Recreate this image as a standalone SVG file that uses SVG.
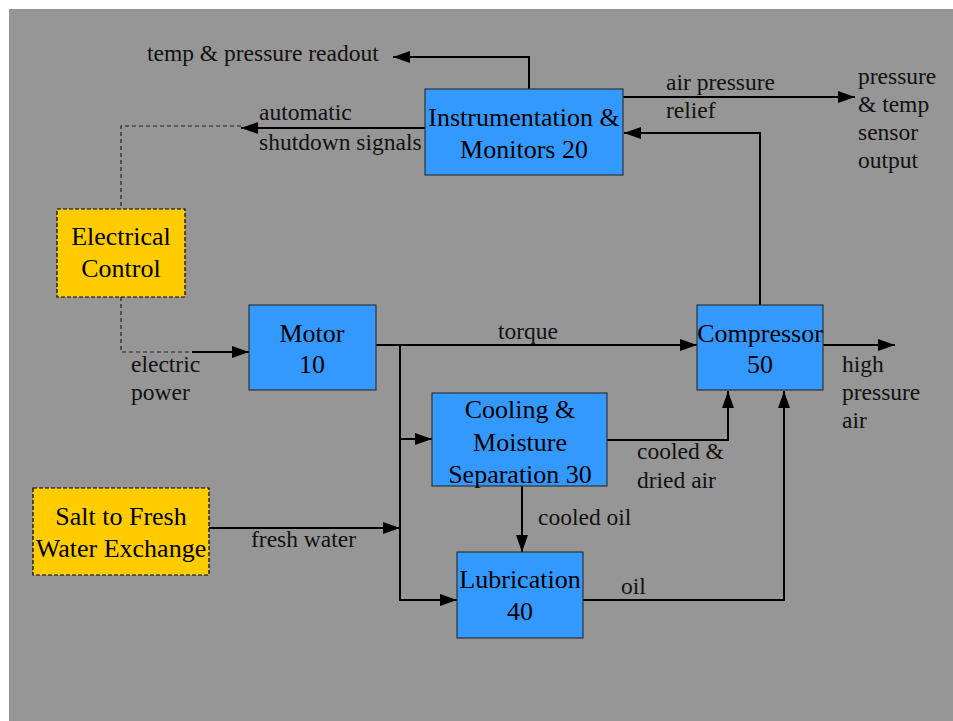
<svg xmlns="http://www.w3.org/2000/svg" width="953" height="721" viewBox="0 0 953 721" font-family="'Liberation Serif', 'DejaVu Serif', serif">
<defs>
<marker id="ah" markerUnits="userSpaceOnUse" markerWidth="18" markerHeight="12" refX="17" refY="6" orient="auto">
<path d="M0,0 L17,6 L0,12 z" fill="#000"/>
</marker>
<style>
.bg{fill:#969696}
.blue{fill:#3399ff;stroke:#333;stroke-width:1.2}
.yel{fill:#ffcc00;stroke:#000;stroke-width:1.2;stroke-dasharray:4,2}
.nt{font-family:'Liberation Serif', 'DejaVu Serif', serif;font-size:26px;fill:#000;text-anchor:middle}
.lb{font-family:'Liberation Serif', 'DejaVu Serif', serif;font-size:23.5px;fill:#111}
.c{fill:none;stroke:#000;stroke-width:2}
.d{fill:none;stroke:#222;stroke-width:1.2;stroke-dasharray:4,3}
</style>
</defs>
<rect x="0" y="0" width="953" height="721" fill="#fff"/>
<rect class="bg" x="9" y="9" width="944" height="712"/>

<g id="connectors">
<path class="c" d="M529,89 V57 H393" marker-end="url(#ah)"/>
<path class="c" d="M425,128 H241" marker-end="url(#ah)"/>
<path class="d" d="M241,126 H121 V209"/>
<path class="d" d="M121,297 V352 H192"/>
<path class="c" d="M192,352 H249" marker-end="url(#ah)"/>
<path class="c" d="M623,97 H855" marker-end="url(#ah)"/>
<path class="c" d="M760,305 V133 H624" marker-end="url(#ah)"/>
<path class="c" d="M376,345 H697" marker-end="url(#ah)"/>
<path class="c" d="M400,345 V600 H457" marker-end="url(#ah)"/>
<path class="c" d="M400,439 H432" marker-end="url(#ah)"/>
<path class="c" d="M209,528 H400" marker-end="url(#ah)"/>
<path class="c" d="M823,345 H895" marker-end="url(#ah)"/>
<path class="c" d="M607,440 H728 V391" marker-end="url(#ah)"/>
<path class="c" d="M583,600 H784 V391" marker-end="url(#ah)"/>
<path class="c" d="M522,486 V552" marker-end="url(#ah)"/>
</g>

<g id="labels">
<text class="lb" x="147" y="61">temp &amp; pressure readout</text>
<text class="lb" x="259" y="120">automatic</text>
<text class="lb" x="259" y="150">shutdown signals</text>
<text class="lb" x="666" y="90">air pressure</text>
<text class="lb" x="666" y="118">relief</text>
<text class="lb" x="858" y="84">pressure</text>
<text class="lb" x="858" y="112">&amp; temp</text>
<text class="lb" x="858" y="140">sensor</text>
<text class="lb" x="858" y="168">output</text>
<text class="lb" x="131" y="372">electric</text>
<text class="lb" x="131" y="400">power</text>
<text class="lb" x="498" y="339">torque</text>
<text class="lb" x="842" y="372">high</text>
<text class="lb" x="842" y="400">pressure</text>
<text class="lb" x="842" y="428">air</text>
<text class="lb" x="637" y="459">cooled &amp;</text>
<text class="lb" x="637" y="488">dried air</text>
<text class="lb" x="538" y="525">cooled oil</text>
<text class="lb" x="251" y="547">fresh water</text>
<text class="lb" x="621" y="594">oil</text>
</g>

<g id="instrumentation">
<rect class="blue" x="425" y="89" width="198" height="86"/>
<text class="nt" x="524" y="126">Instrumentation &amp;</text>
<text class="nt" x="524" y="158">Monitors 20</text>
</g>
<g id="electrical-control">
<rect class="yel" x="57" y="209" width="128" height="88"/>
<text class="nt" x="121" y="245">Electrical</text>
<text class="nt" x="121" y="277">Control</text>
</g>
<g id="motor">
<rect class="blue" x="249" y="305" width="127" height="85"/>
<text class="nt" x="312" y="342">Motor</text>
<text class="nt" x="312" y="373">10</text>
</g>
<g id="compressor">
<rect class="blue" x="697" y="305" width="126" height="85"/>
<text class="nt" x="760" y="342">Compressor</text>
<text class="nt" x="760" y="373">50</text>
</g>
<g id="cooling">
<rect class="blue" x="432" y="393" width="175" height="93"/>
<text class="nt" x="520" y="418">Cooling &amp;</text>
<text class="nt" x="520" y="451">Moisture</text>
<text class="nt" x="520" y="483">Separation 30</text>
</g>
<g id="salt-exchange">
<rect class="yel" x="33" y="488" width="176" height="87"/>
<text class="nt" x="121" y="525">Salt to Fresh</text>
<text class="nt" x="121" y="557">Water Exchange</text>
</g>
<g id="lubrication">
<rect class="blue" x="457" y="552" width="126" height="86"/>
<text class="nt" x="520" y="588">Lubrication</text>
<text class="nt" x="520" y="620">40</text>
</g>
</svg>
